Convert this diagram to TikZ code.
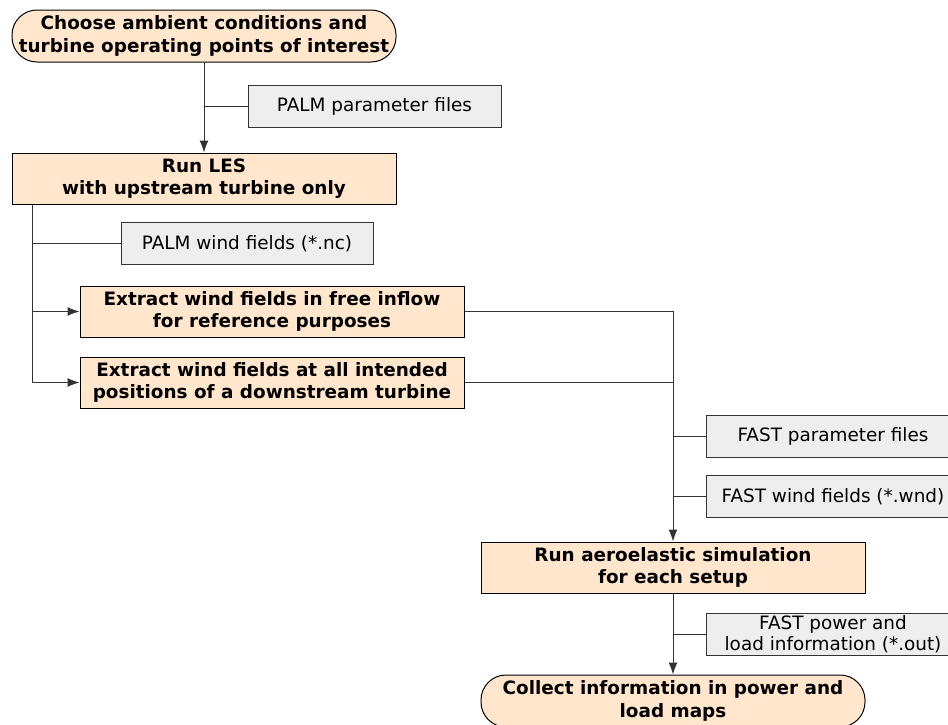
\documentclass[tikz,border=0pt]{standalone}
\usepackage{fontspec}
\setmainfont{DejaVu Sans}
\usepackage{xcolor}
\usetikzlibrary{arrows.meta, positioning, calc}
\definecolor{stepfill}{HTML}{FFE6CC}
\definecolor{filefill}{HTML}{EEEEEE}
\definecolor{linegray}{HTML}{333333}

\begin{document}
\begin{tikzpicture}[
        x=1pt, y=-1pt,
        every node/.style={font=\fontsize{18.4}{22.5}\selectfont},
        process/.style={rectangle, draw=black, line width=1pt, fill=stepfill,
                        minimum width=384pt, minimum height=51pt,
                        align=center, inner sep=0pt, font=\fontsize{18.4}{22.5}\selectfont\bfseries},
        terminal/.style={process, rounded corners=25pt, minimum height=52pt},
        datafile/.style={rectangle, draw=linegray, line width=1pt, fill=filefill,
                         minimum width=253pt, minimum height=42pt,
                         align=center, inner sep=0pt},
        arrow/.style={-{Latex[length=12pt, width=9pt]}, line width=1pt, draw=linegray},
        link/.style={line width=1pt, draw=linegray},
    ]
        \useasboundingbox (0,0) rectangle (948,724);

        % process chain
        \node[terminal] (choose) at (204,36) {Choose ambient conditions and\\turbine operating points of interest};
        \node[process] (les) at (204,178.5) {Run LES\\with upstream turbine only};
        \node[process] (ext1) at (272,311.5) {Extract wind fields in free inflow\\for reference purposes};
        \node[process] (ext2) at (272,382.5) {Extract wind fields at all intended\\positions of a downstream turbine};
        \node[process] (aero) at (673,567.5) {Run aeroelastic simulation\\for each setup};
        \node[terminal] (collect) at (673,701) {Collect information in power and\\load maps};

        % input / output files
        \node[datafile] (palmpar) at (374.5,106.5) {PALM parameter files};
        \node[datafile, minimum width=252pt] (palmwind) at (247,243.5) {PALM wind fields (*.nc)};
        \node[datafile] (fastpar) at (833,436) {FAST parameter files};
        \node[datafile] (fastwind) at (833,496.5) {FAST wind fields (*.wnd)};
        \node[datafile, font=\fontsize{18.4}{21}\selectfont] (fastpow) at (833,634) {FAST power and\\load information (*.out)};

        \coordinate (trunk) at ($(les.south west)+(21,0)$);

        \draw[arrow] (choose) -- (les);
        \draw[link] (palmpar.west) -- (palmpar.west -| choose.south);

        \draw[arrow] (trunk) |- (ext2.west);
        \draw[arrow] (trunk |- ext1.west) -- (ext1.west);
        \draw[link] (trunk |- palmwind.west) -- (palmwind.west);

        \draw[arrow] (ext1.east) -| (aero.north);
        \draw[link] (ext2.east) -- (ext2.east -| aero.north);
        \draw[link] (fastpar.west) -- (fastpar.west -| aero.north);
        \draw[link] (fastwind.west) -- (fastwind.west -| aero.north);

        \draw[arrow] (aero) -- (collect);
        \draw[link] (fastpow.west) -- (fastpow.west -| aero.south);
\end{tikzpicture}
\end{document}
